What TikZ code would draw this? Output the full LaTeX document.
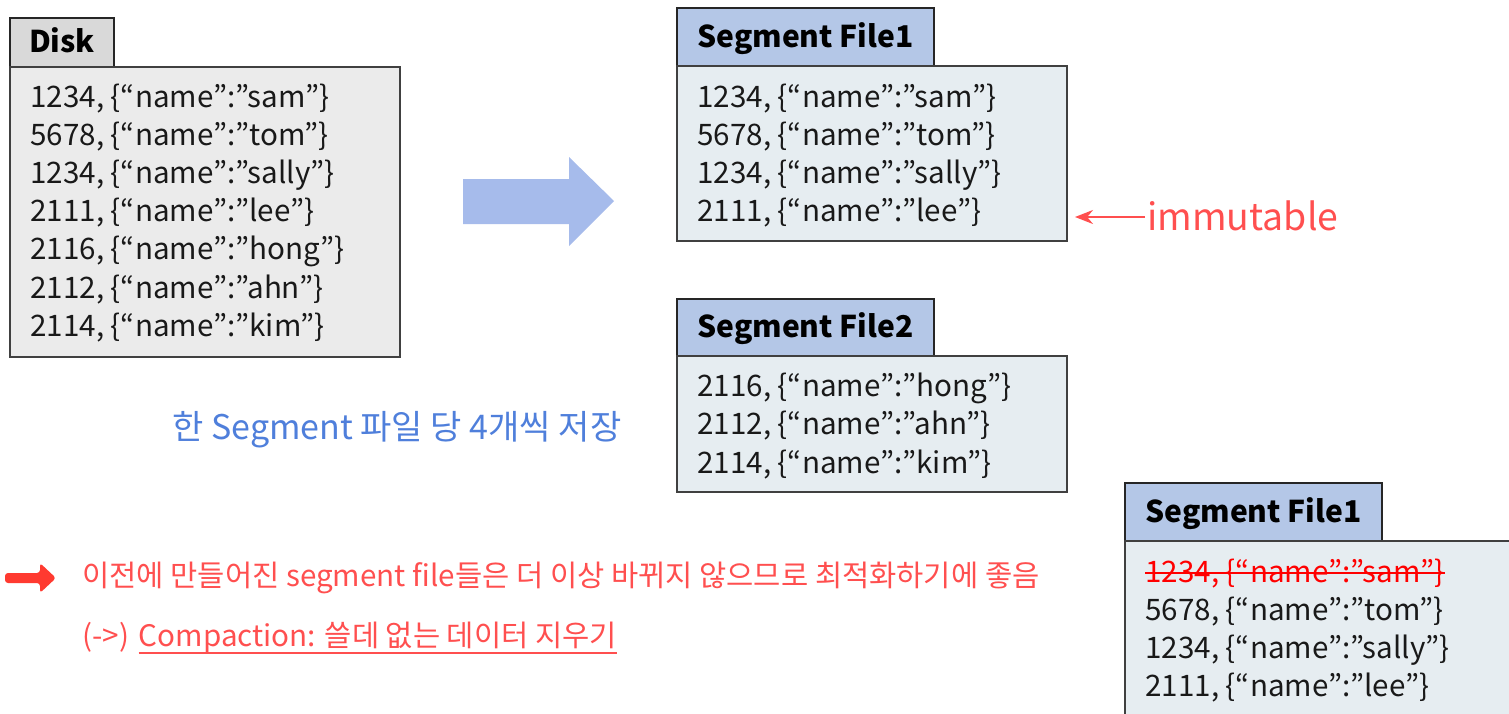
\documentclass[tikz,border=0pt]{standalone}
\usepackage{fontspec}
\setmainfont{Noto Sans CJK KR}
\usetikzlibrary{arrows.meta}
\definecolor{diskhead}{HTML}{D9D9D9}
\definecolor{diskbody}{HTML}{EBEBEB}
\definecolor{seghead}{HTML}{B4C7E7}
\definecolor{segbody}{HTML}{E6EDF1}
\definecolor{bigarrow}{HTML}{A6BBEB}
\definecolor{alertred}{HTML}{FF4F4F}
\definecolor{notered}{HTML}{FF3A30}
\definecolor{noteblue}{HTML}{4F7FDB}
\tikzset{
  headbox/.style={draw=black!85, line width=0.7pt},
  bodybox/.style={draw=black!75, line width=0.7pt},
  headtext/.style={font=\fontsize{15}{17}\selectfont\bfseries, text=black},
  rec/.style={anchor=base west, inner sep=0pt, font=\fontsize{14.8}{16}\selectfont, text=black!90},
}
\begin{document}
\begin{tikzpicture}[x=0.5pt, y=-0.5pt]
\useasboundingbox (0,0) rectangle (1509,713);

% ---- Disk ----
\filldraw[headbox, fill=diskhead] (10,18) rectangle (114,67);
\node[headtext] (diskhd) at (62,40) {Disk};
\filldraw[bodybox, fill=diskbody] (10,67) rectangle (400,357);
\foreach \t [count=\i from 0] in {{1234, \{“name”:”sam”\}},{5678, \{“name”:”tom”\}},{1234, \{“name”:”sally”\}},{2111, \{“name”:”lee”\}},{2116, \{“name”:”hong”\}},{2112, \{“name”:”ahn”\}},{2114, \{“name”:”kim”\}}}
  \node[rec] (disk\i) at (30,{107+38.2*\i}) {\t};

% ---- big arrow ----
\fill[bigarrow] (463,179) -- (569,179) -- (569,157) -- (614,201) -- (569,246) -- (569,224) -- (463,224) -- cycle;

% ---- Segment File1 ----
\filldraw[headbox, fill=seghead] (677,8) rectangle (934,66);
\node[headtext] (s1hd) at (805.5,39) {Segment File1};
\filldraw[bodybox, fill=segbody] (677,66) rectangle (1067,241);
\foreach \t [count=\i from 0] in {{1234, \{“name”:”sam”\}},{5678, \{“name”:”tom”\}},{1234, \{“name”:”sally”\}},{2111, \{“name”:”lee”\}}}
  \node[rec] (sa\i) at (697,{107+38.2*\i}) {\t};

% immutable label
\node[anchor=west, inner sep=0pt, font=\fontsize{18.7}{21}\selectfont, text=alertred] (imm) at (1147,216) {immutable};
\coordinate (immtip) at (1075,217);
\draw[alertred, line width=1.1pt, -{Stealth[length=9pt,width=7pt]}] ([xshift=-1pt]imm.west |- immtip) -- (immtip);

% ---- Segment File2 ----
\filldraw[headbox, fill=seghead] (677,299) rectangle (934,356);
\node[headtext] (s2hd) at (805.5,329) {Segment File2};
\filldraw[bodybox, fill=segbody] (677,356) rectangle (1067,492);
\foreach \t [count=\i from 0] in {{2116, \{“name”:”hong”\}},{2112, \{“name”:”ahn”\}},{2114, \{“name”:”kim”\}}}
  \node[rec] (sb\i) at (697,{396+38.5*\i}) {\t};

% note in blue
\node[anchor=west, inner sep=0pt, font=\fontsize{17}{19}\selectfont, text=noteblue] (note) at (172,430) {한 Segment 파일 당 4개씩 저장};

% ---- compacted Segment File1 ----
\filldraw[headbox, fill=seghead] (1125,483) rectangle (1382,541);
\node[headtext] (s3hd) at (1253.5,514) {Segment File1};
\filldraw[bodybox, fill=segbody] (1125,541) -- (1525,541) -- (1525,730) -- (1125,730) -- cycle;
\node[rec, text=red] (sc0) at (1145,582) {1234, \{“name”:”sam”\}};
\draw[red, line width=0.9pt] ([yshift=4.6pt]sc0.base west) -- ([yshift=4.6pt]sc0.base east);
\foreach \t [count=\i from 1] in {{5678, \{“name”:”tom”\}},{1234, \{“name”:”sally”\}},{2111, \{“name”:”lee”\}}}
  \node[rec] (sc\i) at (1145,{582+38.2*\i}) {\t};

% ---- remarks ----
\fill[notered, rounded corners=1.5pt] (5,573) -- (40,573) -- (40,563) -- (56,578) -- (40,593) -- (40,583) -- (5,583) -- cycle;
\node[anchor=west, inner sep=0pt, font=\fontsize{14.8}{17}\selectfont, text=alertred] (rem1) at (82,578) {이전에 만들어진 segment file들은 더 이상 바뀌지 않으므로 최적화하기에 좋음};
\node[anchor=west, inner sep=0pt, font=\fontsize{14.8}{17}\selectfont, text=alertred] (rem2a) at (82,637) {(->)};
\node[anchor=base west, inner sep=0pt, font=\fontsize{14.8}{17}\selectfont, text=alertred] (rem2b) at ([xshift=4.5pt]rem2a.base east) {Compaction: 쓸데 없는 데이터 지우기};
\draw[alertred, line width=0.9pt] ([yshift=-3.2pt]rem2b.base west) -- ([yshift=-3.2pt]rem2b.base east);
\end{tikzpicture}
\end{document}
